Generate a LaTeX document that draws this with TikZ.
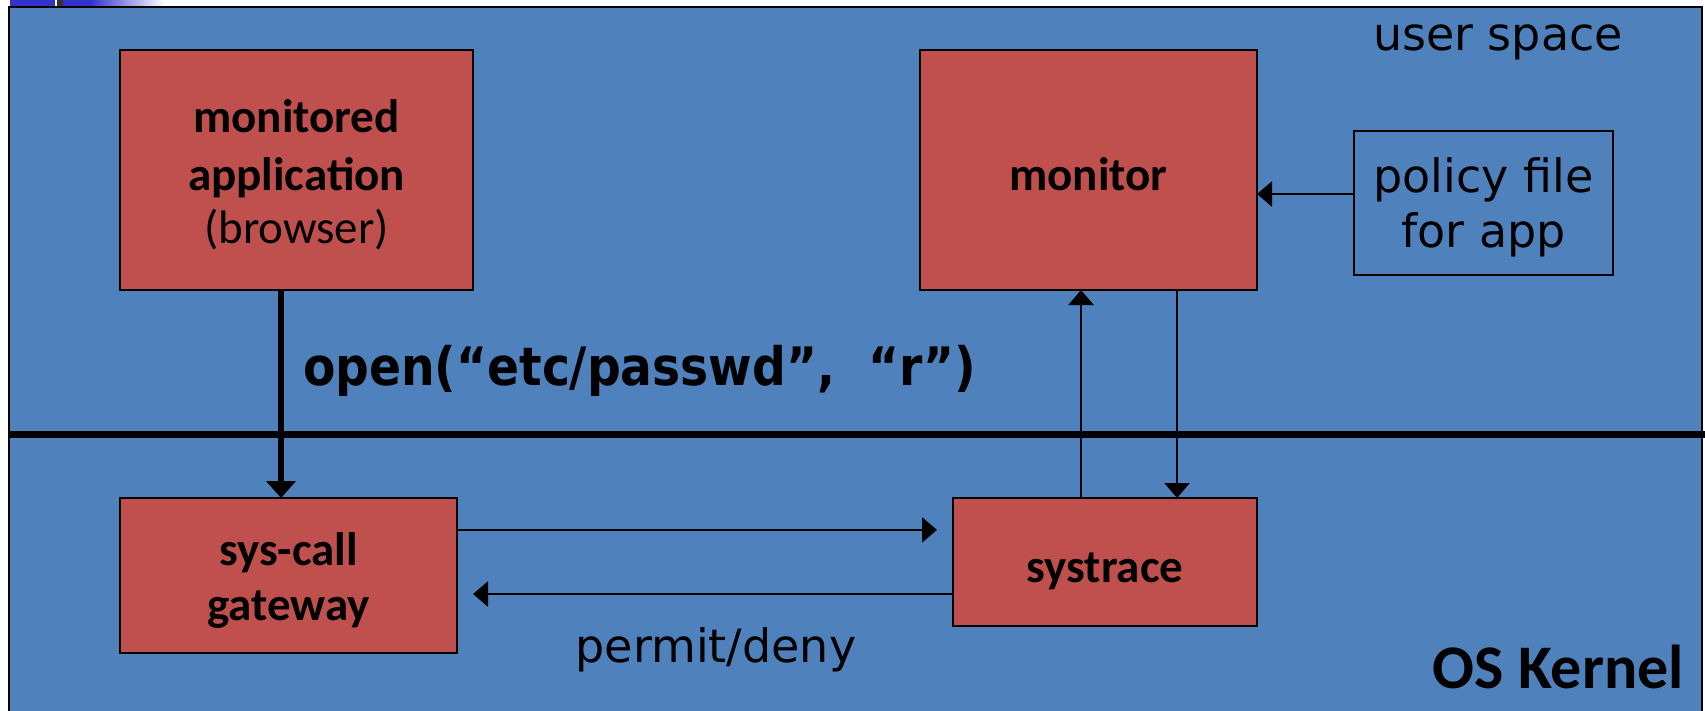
\documentclass[tikz,border=0pt]{standalone}
\usepackage{fontspec}
\setmainfont{Carlito}
\newfontfamily\tah{DejaVu Sans}
\newfontfamily\tahb[FakeStretch=0.89]{DejaVu Sans}
\usetikzlibrary{arrows.meta,calc}
\definecolor{bg}{HTML}{4F81BD}
\definecolor{rd}{HTML}{C0504D}
\definecolor{deco}{HTML}{3333CC}
\begin{document}
\begin{tikzpicture}[x=1pt,y=-1pt,
  redbox/.style={draw=black, line width=2pt, fill=rd, inner sep=0pt, outer sep=0pt},
  bluebox/.style={draw=black, line width=2pt, fill=bg, inner sep=0pt, outer sep=0pt},
  bl/.style={font=\fontsize{47}{56}\selectfont\bfseries, anchor=base, inner sep=0pt},
  rl/.style={font=\fontsize{47}{56}\selectfont, anchor=base, inner sep=0pt},
  tl/.style={font=\tah\fontsize{46}{55}\selectfont, anchor=base, inner sep=0pt},
  conn/.style={line width=2.5pt, -{Triangle[width=25pt,length=15pt]}},
  mainconn/.style={line width=6pt, -{Triangle[width=29pt,length=17pt]}},
]
\useasboundingbox (0,0) rectangle (1705,710);
\fill[white] (0,0) rectangle (1705,710);
% slide decoration
\fill[deco] (10,0) rectangle (55,6);
\fill[black!80] (57,0) rectangle (63,6);
\fill[deco] (63,0) rectangle (90,6);
\shade[left color=deco, right color=white] (90,0) rectangle (165,6);
% spaces
\node[bluebox, minimum width=1693pt, minimum height=708pt] (space) at (855.5,361) {};
\coordinate (divl) at (9,434);
\coordinate (divr) at (1705,434);
\draw[line width=7pt] (divl) -- (divr);
\node[tl] (us) at (1498,50) {user space};
\node[font=\fontsize{62}{70}\selectfont\bfseries, anchor=base east, inner sep=0pt] (osk) at (1684,688) {OS Kernel};
% boxes
\node[redbox, minimum width=353pt, minimum height=240pt] (app) at (296.5,170) {};
\node[redbox, minimum width=337pt, minimum height=240pt] (mon) at (1088.5,170) {};
\node[bluebox, minimum width=259pt, minimum height=144pt] (pol) at (1483.5,203) {};
\node[redbox, minimum width=337pt, minimum height=155pt] (gw) at (288.5,575.5) {};
\node[redbox, minimum width=304pt, minimum height=128pt] (sys) at (1105,562) {};
% labels
\node[bl] (app1) at (296.5,132) {monitored};
\node[bl] (app2) at (296.5,190) {application};
\node[rl] (app3) at (296.5,243) {(browser)};
\node[bl] (mon1) at (1088.5,190) {monitor};
\node[tl] (pol1) at (1483.5,192) {policy file};
\node[tl] (pol2) at (1483.5,247) {for app};
\node[bl] (gw1) at (288.5,565) {sys-call};
\node[bl] (gw2) at (288.5,620) {gateway};
\node[bl] (sys1) at (1105,582) {systrace};
\node[font=\tahb\bfseries\fontsize{53}{60}\selectfont, anchor=base west, inner sep=0pt] (call) at (303,385) {open(“etc/passwd”,\ \ “r”)};
\node[tl] (pd) at (716,662) {permit/deny};
% connectors
\coordinate (s1) at ([xshift=-15.5pt]app.south);
\draw[mainconn] (s1) -- (s1 |- gw.north);
\coordinate (u1) at ($(sys.north west)!0.421!(sys.north east)$);
\draw[conn] (u1) -- (u1 |- mon.south);
\coordinate (d1) at ($(sys.north west)!0.737!(sys.north east)$);
\draw[conn] (d1 |- mon.south) -- (d1);
\coordinate (h1) at ($(gw.north east)!0.206!(gw.south east)$);
\draw[conn] (h1) -- ($(h1 -| sys.west)+(-16,0)$);
\coordinate (h2) at ($(sys.north west)!0.75!(sys.south west)$);
\draw[conn] (h2) -- ($(h2 -| gw.east)+(16,0)$);
\coordinate (p1) at ($(pol.north west)!0.4375!(pol.south west)$);
\draw[conn] (p1) -- (p1 -| mon.east);
\end{tikzpicture}
\end{document}
